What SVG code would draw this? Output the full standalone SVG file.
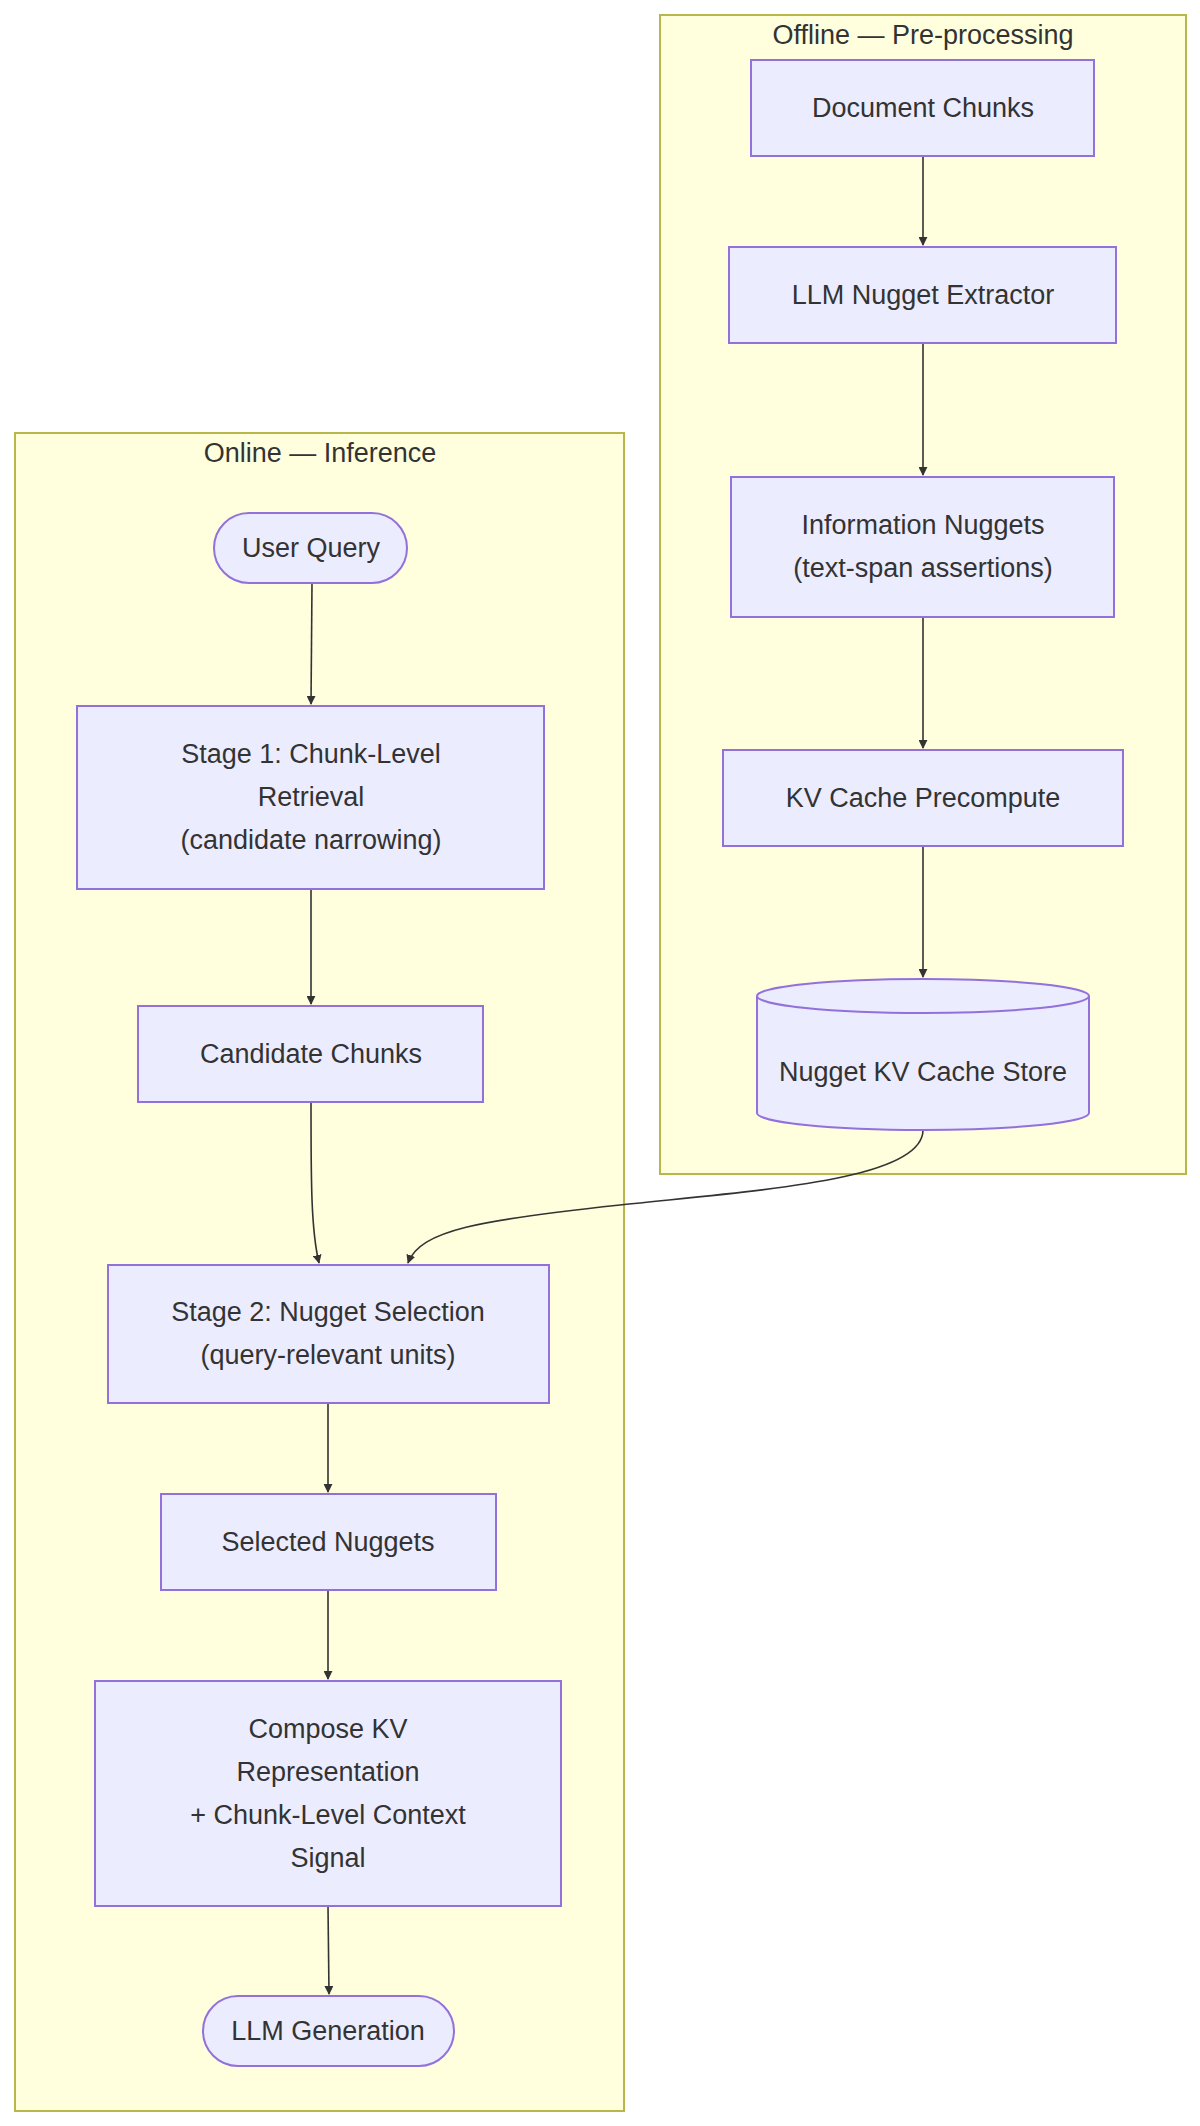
<svg xmlns="http://www.w3.org/2000/svg" width="1200" height="2126" viewBox="0 0 1200 2126">
<style>
.cl{fill:#ffffde;stroke:#b8b84a;stroke-width:2}
.n{fill:#ececff;stroke:#9370db;stroke-width:2}
.t{font-family:"Liberation Sans",Arial,sans-serif;font-size:27px;fill:#333;text-anchor:middle;dominant-baseline:central}
.e{fill:none;stroke:#333;stroke-width:1.6;marker-end:url(#a)}
</style>
<defs><marker id="a" viewBox="0 0 10 10" refX="9" refY="5" markerWidth="9" markerHeight="9" markerUnits="userSpaceOnUse" orient="auto"><path d="M0,0L10,5L0,10z" fill="#333"/></marker></defs>
<rect width="1200" height="2126" fill="#fff"/>
<g id="offline"><rect class="cl" x="660" y="15" width="526" height="1159"/><text class="t" x="923" y="35">Offline — Pre-processing</text></g>
<g id="online"><rect class="cl" x="15" y="433" width="609" height="1678"/><text class="t" x="320" y="453">Online — Inference</text></g>
<g id="edges">
<path class="e" d="M923,156V245"/>
<path class="e" d="M923,343V475"/>
<path class="e" d="M923,617V748"/>
<path class="e" d="M923,846V977"/>
<path class="e" d="M312,583L311,704"/>
<path class="e" d="M311,889V1004"/>
<path class="e" d="M311,1102C311,1180 311,1230 319,1263"/>
<path class="e" d="M923,1130C923,1180 760,1190 620,1205C480,1220 420,1230 408,1263"/>
<path class="e" d="M328,1403V1492"/>
<path class="e" d="M328,1590V1679"/>
<path class="e" d="M328,1906L329,1994"/>
</g>
<g id="docchunks"><rect class="n" x="751" y="60" width="343" height="96"/><text class="t" x="923" y="108">Document Chunks</text></g>
<g id="extractor"><rect class="n" x="729" y="247" width="387" height="96"/><text class="t" x="923" y="295">LLM Nugget Extractor</text></g>
<g id="nuggets"><rect class="n" x="731" y="477" width="383" height="140"/><text class="t" x="923" y="525">Information Nuggets</text><text class="t" x="923" y="568">(text-span assertions)</text></g>
<g id="precompute"><rect class="n" x="723" y="750" width="400" height="96"/><text class="t" x="923" y="798">KV Cache Precompute</text></g>
<g id="store"><path class="n" d="M757,996A166,17 0 0 1 1089,996V1113A166,17 0 0 1 757,1113Z"/><path class="n" d="M757,996A166,17 0 0 0 1089,996" fill="none"/><text class="t" x="923" y="1072">Nugget KV Cache Store</text></g>
<g id="query"><rect class="n" x="214" y="513" width="193" height="70" rx="35"/><text class="t" x="311" y="548">User Query</text></g>
<g id="stage1"><rect class="n" x="77" y="706" width="467" height="183"/><text class="t" x="311" y="754">Stage 1: Chunk-Level</text><text class="t" x="311" y="797">Retrieval</text><text class="t" x="311" y="840">(candidate narrowing)</text></g>
<g id="candidates"><rect class="n" x="138" y="1006" width="345" height="96"/><text class="t" x="311" y="1054">Candidate Chunks</text></g>
<g id="stage2"><rect class="n" x="108" y="1265" width="441" height="138"/><text class="t" x="328" y="1312">Stage 2: Nugget Selection</text><text class="t" x="328" y="1355">(query-relevant units)</text></g>
<g id="selected"><rect class="n" x="161" y="1494" width="335" height="96"/><text class="t" x="328" y="1542">Selected Nuggets</text></g>
<g id="compose"><rect class="n" x="95" y="1681" width="466" height="225"/><text class="t" x="328" y="1729">Compose KV</text><text class="t" x="328" y="1772">Representation</text><text class="t" x="328" y="1815">+ Chunk-Level Context</text><text class="t" x="328" y="1858">Signal</text></g>
<g id="generation"><rect class="n" x="203" y="1996" width="251" height="70" rx="35"/><text class="t" x="328" y="2031">LLM Generation</text></g>
</svg>
